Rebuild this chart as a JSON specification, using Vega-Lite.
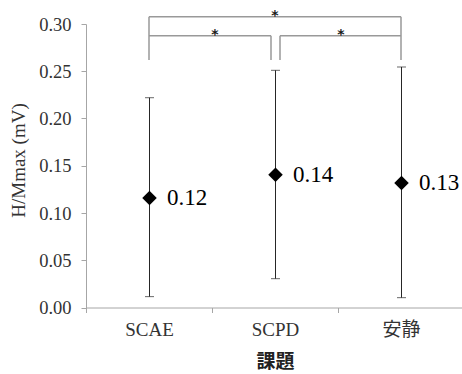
{
  "$schema": "https://vega.github.io/schema/vega-lite/v6.json",
  "width": 378,
  "height": 283.5,
  "autosize": "none",
  "padding": {"left": 86, "top": 24, "right": 0, "bottom": 66.5},
  "background": "white",
  "config": {"view": {"stroke": null}, "font": "Liberation Serif"},
  "datasets": {
    "stats": [
      {"group": "SCAE", "mean": 0.116, "lo": 0.0115, "hi": 0.222},
      {"group": "SCPD", "mean": 0.1406, "lo": 0.0305, "hi": 0.251},
      {"group": "安静", "mean": 0.1317, "lo": 0.0104, "hi": 0.2545}
    ],
    "brackets": [
      {"pair": "all", "from": "SCAE", "to": "安静", "y": 0.3077},
      {"pair": "left", "from": "SCAE", "to": "SCPD", "y": 0.2876},
      {"pair": "right", "from": "SCPD", "to": "安静", "y": 0.2876}
    ],
    "legs": [
      {"leg": "outer", "group": "SCAE", "y": 0.2619, "y2": 0.3077},
      {"leg": "outer", "group": "安静", "y": 0.2619, "y2": 0.3077},
      {"leg": "inner-left", "group": "SCPD", "y": 0.2619, "y2": 0.2876},
      {"leg": "inner-right", "group": "SCPD", "y": 0.2619, "y2": 0.2876}
    ],
    "stars": [
      {"pair": "all", "group": "SCPD", "y": 0.3077, "mark": "*"},
      {"pair": "left", "group": "SCAE", "y": 0.2876, "mark": "*"},
      {"pair": "right", "group": "SCPD", "y": 0.2876, "mark": "*"}
    ]
  },
  "layer": [
    {
      "data": {"name": "stats"},
      "mark": {"type": "rule", "color": "#262626", "strokeWidth": 1, "xOffset": 0.5},
      "encoding": {
        "x": {
          "field": "group",
          "type": "nominal",
          "scale": {"domain": ["SCAE", "SCPD", "安静"], "paddingInner": 0, "paddingOuter": 0},
          "axis": {
            "title": "課題",
            "tickBand": "extent",
            "labelAngle": 0,
            "domainColor": "#a6a6a6",
            "tickColor": "#a6a6a6",
            "tickSize": 5,
            "labelPadding": 8,
            "labelFont": "Liberation Serif, Noto Sans CJK JP",
            "labelFontSize": 19,
            "labelColor": "#333333",
            "titleFont": "Noto Sans CJK JP",
            "titleFontSize": 19,
            "titleFontWeight": "bold",
            "titleColor": "#222222",
            "titlePadding": 13
          }
        },
        "y": {
          "field": "lo",
          "type": "quantitative",
          "scale": {"domain": [0, 0.3], "nice": false, "zero": true},
          "axis": {
            "title": "H/Mmax (mV)",
            "values": [0, 0.05, 0.1, 0.15, 0.2, 0.25, 0.3],
            "format": ".2f",
            "grid": false,
            "domainColor": "#a6a6a6",
            "tickColor": "#a6a6a6",
            "tickSize": 5,
            "labelPadding": 10,
            "labelFont": "Liberation Serif",
            "labelFontSize": 18.5,
            "labelColor": "#333333",
            "titleFont": "Liberation Serif",
            "titleFontSize": 19,
            "titleFontWeight": "normal",
            "titleColor": "#333333",
            "titleAngle": -90,
            "titleAlign": "center",
            "titleBaseline": "middle",
            "titleX": -68,
            "titleY": 136
          }
        },
        "y2": {"field": "hi"}
      }
    },
    {
      "data": {"name": "stats"},
      "mark": {"type": "tick", "color": "#262626", "size": 9, "thickness": 1, "xOffset": 0.5},
      "encoding": {
        "x": {"field": "group", "type": "nominal"},
        "y": {"field": "lo", "type": "quantitative"}
      }
    },
    {
      "data": {"name": "stats"},
      "mark": {"type": "tick", "color": "#262626", "size": 9, "thickness": 1, "xOffset": 0.5},
      "encoding": {
        "x": {"field": "group", "type": "nominal"},
        "y": {"field": "hi", "type": "quantitative"}
      }
    },
    {
      "data": {"name": "stats"},
      "mark": {"type": "point", "shape": "diamond", "filled": true, "size": 210, "color": "#000000", "opacity": 1, "xOffset": 0.5},
      "encoding": {
        "x": {"field": "group", "type": "nominal"},
        "y": {"field": "mean", "type": "quantitative"}
      }
    },
    {
      "data": {"name": "stats"},
      "mark": {"type": "text", "align": "left", "baseline": "middle", "dx": 18, "fontSize": 23, "font": "Liberation Serif", "color": "#000000"},
      "encoding": {
        "x": {"field": "group", "type": "nominal"},
        "y": {"field": "mean", "type": "quantitative"},
        "text": {"field": "mean", "type": "quantitative", "format": ".2f"}
      }
    },
    {
      "data": {"name": "brackets"},
      "transform": [{"filter": "datum.pair === 'all'"}],
      "mark": {"type": "rule", "color": "#999999", "strokeWidth": 1.5},
      "encoding": {
        "x": {"field": "from", "type": "nominal"},
        "x2": {"field": "to"},
        "y": {"field": "y", "type": "quantitative"}
      }
    },
    {
      "data": {"name": "brackets"},
      "transform": [{"filter": "datum.pair === 'left'"}],
      "mark": {"type": "rule", "color": "#999999", "strokeWidth": 1.5, "x2Offset": -4},
      "encoding": {
        "x": {"field": "from", "type": "nominal"},
        "x2": {"field": "to"},
        "y": {"field": "y", "type": "quantitative"}
      }
    },
    {
      "data": {"name": "brackets"},
      "transform": [{"filter": "datum.pair === 'right'"}],
      "mark": {"type": "rule", "color": "#999999", "strokeWidth": 1.5, "xOffset": 5},
      "encoding": {
        "x": {"field": "from", "type": "nominal"},
        "x2": {"field": "to"},
        "y": {"field": "y", "type": "quantitative"}
      }
    },
    {
      "data": {"name": "legs"},
      "transform": [{"filter": "datum.leg === 'outer'"}],
      "mark": {"type": "rule", "color": "#999999", "strokeWidth": 1.5},
      "encoding": {
        "x": {"field": "group", "type": "nominal"},
        "y": {"field": "y", "type": "quantitative"},
        "y2": {"field": "y2"}
      }
    },
    {
      "data": {"name": "legs"},
      "transform": [{"filter": "datum.leg === 'inner-left'"}],
      "mark": {"type": "rule", "color": "#999999", "strokeWidth": 1.5, "xOffset": -4},
      "encoding": {
        "x": {"field": "group", "type": "nominal"},
        "y": {"field": "y", "type": "quantitative"},
        "y2": {"field": "y2"}
      }
    },
    {
      "data": {"name": "legs"},
      "transform": [{"filter": "datum.leg === 'inner-right'"}],
      "mark": {"type": "rule", "color": "#999999", "strokeWidth": 1.5, "xOffset": 5},
      "encoding": {
        "x": {"field": "group", "type": "nominal"},
        "y": {"field": "y", "type": "quantitative"},
        "y2": {"field": "y2"}
      }
    },
    {
      "data": {"name": "stars"},
      "transform": [{"filter": "datum.pair === 'all'"}],
      "mark": {"type": "text", "baseline": "middle", "align": "center", "dy": -1, "fontSize": 14, "font": "DejaVu Sans", "fontWeight": "bold", "color": "#1a1a1a"},
      "encoding": {
        "x": {"field": "group", "type": "nominal"},
        "y": {"field": "y", "type": "quantitative"},
        "text": {"field": "mark"}
      }
    },
    {
      "data": {"name": "stars"},
      "transform": [{"filter": "datum.pair !== 'all'"}],
      "mark": {"type": "text", "baseline": "middle", "align": "center", "dy": -1, "dx": 3, "fontSize": 14, "font": "DejaVu Sans", "fontWeight": "bold", "color": "#1a1a1a"},
      "encoding": {
        "x": {"field": "group", "type": "nominal", "bandPosition": 1},
        "y": {"field": "y", "type": "quantitative"},
        "text": {"field": "mark"}
      }
    }
  ]
}
